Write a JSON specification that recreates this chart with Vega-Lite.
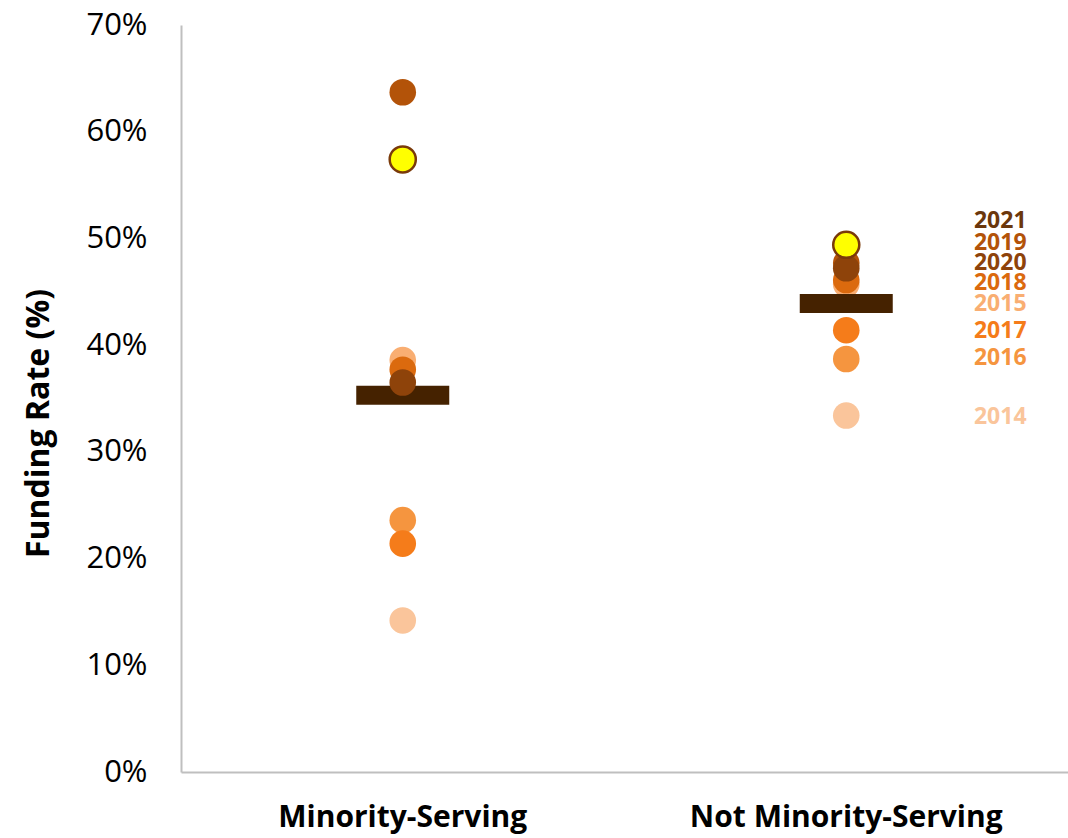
{
  "$schema": "https://vega.github.io/schema/vega-lite/v6.json",
  "width": 887,
  "height": 747,
  "autosize": "none",
  "padding": {"left": 181, "top": 25, "right": 0, "bottom": 66},
  "background": "white",
  "config": {"view": {"stroke": null}, "font": "Open Sans"},
  "datasets": {
    "points": [
      {"group": "Minority-Serving", "year": "2014", "rate": 0.142, "label_y": null},
      {"group": "Minority-Serving", "year": "2015", "rate": 0.386, "label_y": null},
      {"group": "Minority-Serving", "year": "2016", "rate": 0.236, "label_y": null},
      {"group": "Minority-Serving", "year": "2017", "rate": 0.214, "label_y": null},
      {"group": "Minority-Serving", "year": "2018", "rate": 0.377, "label_y": null},
      {"group": "Minority-Serving", "year": "2019", "rate": 0.637, "label_y": null},
      {"group": "Minority-Serving", "year": "2020", "rate": 0.365, "label_y": null},
      {"group": "Minority-Serving", "year": "2021", "rate": 0.574, "label_y": null},
      {"group": "Not Minority-Serving", "year": "2014", "rate": 0.334, "label_y": 0.333},
      {"group": "Not Minority-Serving", "year": "2015", "rate": 0.457, "label_y": 0.439},
      {"group": "Not Minority-Serving", "year": "2016", "rate": 0.387, "label_y": 0.388},
      {"group": "Not Minority-Serving", "year": "2017", "rate": 0.414, "label_y": 0.413},
      {"group": "Not Minority-Serving", "year": "2018", "rate": 0.461, "label_y": 0.458},
      {"group": "Not Minority-Serving", "year": "2019", "rate": 0.477, "label_y": 0.496},
      {"group": "Not Minority-Serving", "year": "2020", "rate": 0.472, "label_y": 0.477},
      {"group": "Not Minority-Serving", "year": "2021", "rate": 0.494, "label_y": 0.516}
    ],
    "means": [
      {"group": "Minority-Serving", "mean": 0.353},
      {"group": "Not Minority-Serving", "mean": 0.439}
    ]
  },
  "encoding": {
    "x": {
      "field": "group", "type": "nominal", "title": null,
      "scale": {"domain": ["Minority-Serving", "Not Minority-Serving"], "paddingInner": 0, "paddingOuter": 0},
      "axis": {
        "labelAngle": 0, "labelFont": "Open Sans", "labelFontWeight": "bold", "labelFontSize": 30, "labelLimit": 0,
        "labelColor": "black", "labelPadding": 30, "ticks": false, "domainColor": "#BFBFBF", "domainWidth": 2
      }
    }
  },
  "layer": [
    {
      "data": {"name": "points"},
      "transform": [{"filter": "datum.year <= '2018'"}],
      "mark": {"type": "point", "filled": true, "size": 707, "opacity": 1},
      "encoding": {
        "y": {
          "field": "rate", "type": "quantitative", "title": "Funding Rate (%)",
          "scale": {"domain": [0, 0.7]},
          "axis": {
            "format": ".0%", "values": [0, 0.1, 0.2, 0.3, 0.4, 0.5, 0.6, 0.7], "grid": false, "ticks": false,
            "domainColor": "#BFBFBF", "domainWidth": 2, "labelFont": "Open Sans", "labelFontSize": 31,
            "labelColor": "black", "labelPadding": 34, "titleFont": "Open Sans", "titleFontWeight": "bold",
            "titleFontSize": 32, "titleColor": "black", "titlePadding": 30, "titleY": 398
          }
        },
        "color": {
          "field": "year", "type": "nominal", "legend": null,
          "scale": {
            "domain": ["2014", "2015", "2016", "2017", "2018", "2019", "2020", "2021"],
            "range": ["#FAC59B", "#F9AE72", "#F5953F", "#F57C1A", "#DB6A0E", "#B35309", "#8E430A", "#6B370C"]
          }
        }
      }
    },
    {
      "data": {"name": "means"},
      "mark": {"type": "tick", "size": 93, "thickness": 19, "color": "#452200", "opacity": 1},
      "encoding": {
        "y": {"field": "mean", "type": "quantitative"}
      }
    },
    {
      "data": {"name": "points"},
      "transform": [{"filter": "datum.year >= '2019' && datum.year <= '2020'"}],
      "mark": {"type": "point", "filled": true, "size": 707, "opacity": 1},
      "encoding": {
        "y": {"field": "rate", "type": "quantitative"},
        "color": {"field": "year", "type": "nominal", "legend": null}
      }
    },
    {
      "data": {"name": "points"},
      "transform": [{"filter": "datum.year == '2021'"}],
      "mark": {"type": "point", "filled": true, "size": 680, "opacity": 1, "fill": "#FFFF00", "stroke": "#7A3A0A", "strokeWidth": 2.5},
      "encoding": {
        "y": {"field": "rate", "type": "quantitative"}
      }
    },
    {
      "data": {"name": "points"},
      "transform": [{"filter": "datum.label_y != null"}],
      "mark": {"type": "text", "dx": 154, "font": "Open Sans", "fontWeight": "bold", "fontSize": 23, "align": "center", "baseline": "middle"},
      "encoding": {
        "y": {"field": "label_y", "type": "quantitative"},
        "text": {"field": "year"},
        "color": {"field": "year", "type": "nominal", "legend": null}
      }
    }
  ]
}
